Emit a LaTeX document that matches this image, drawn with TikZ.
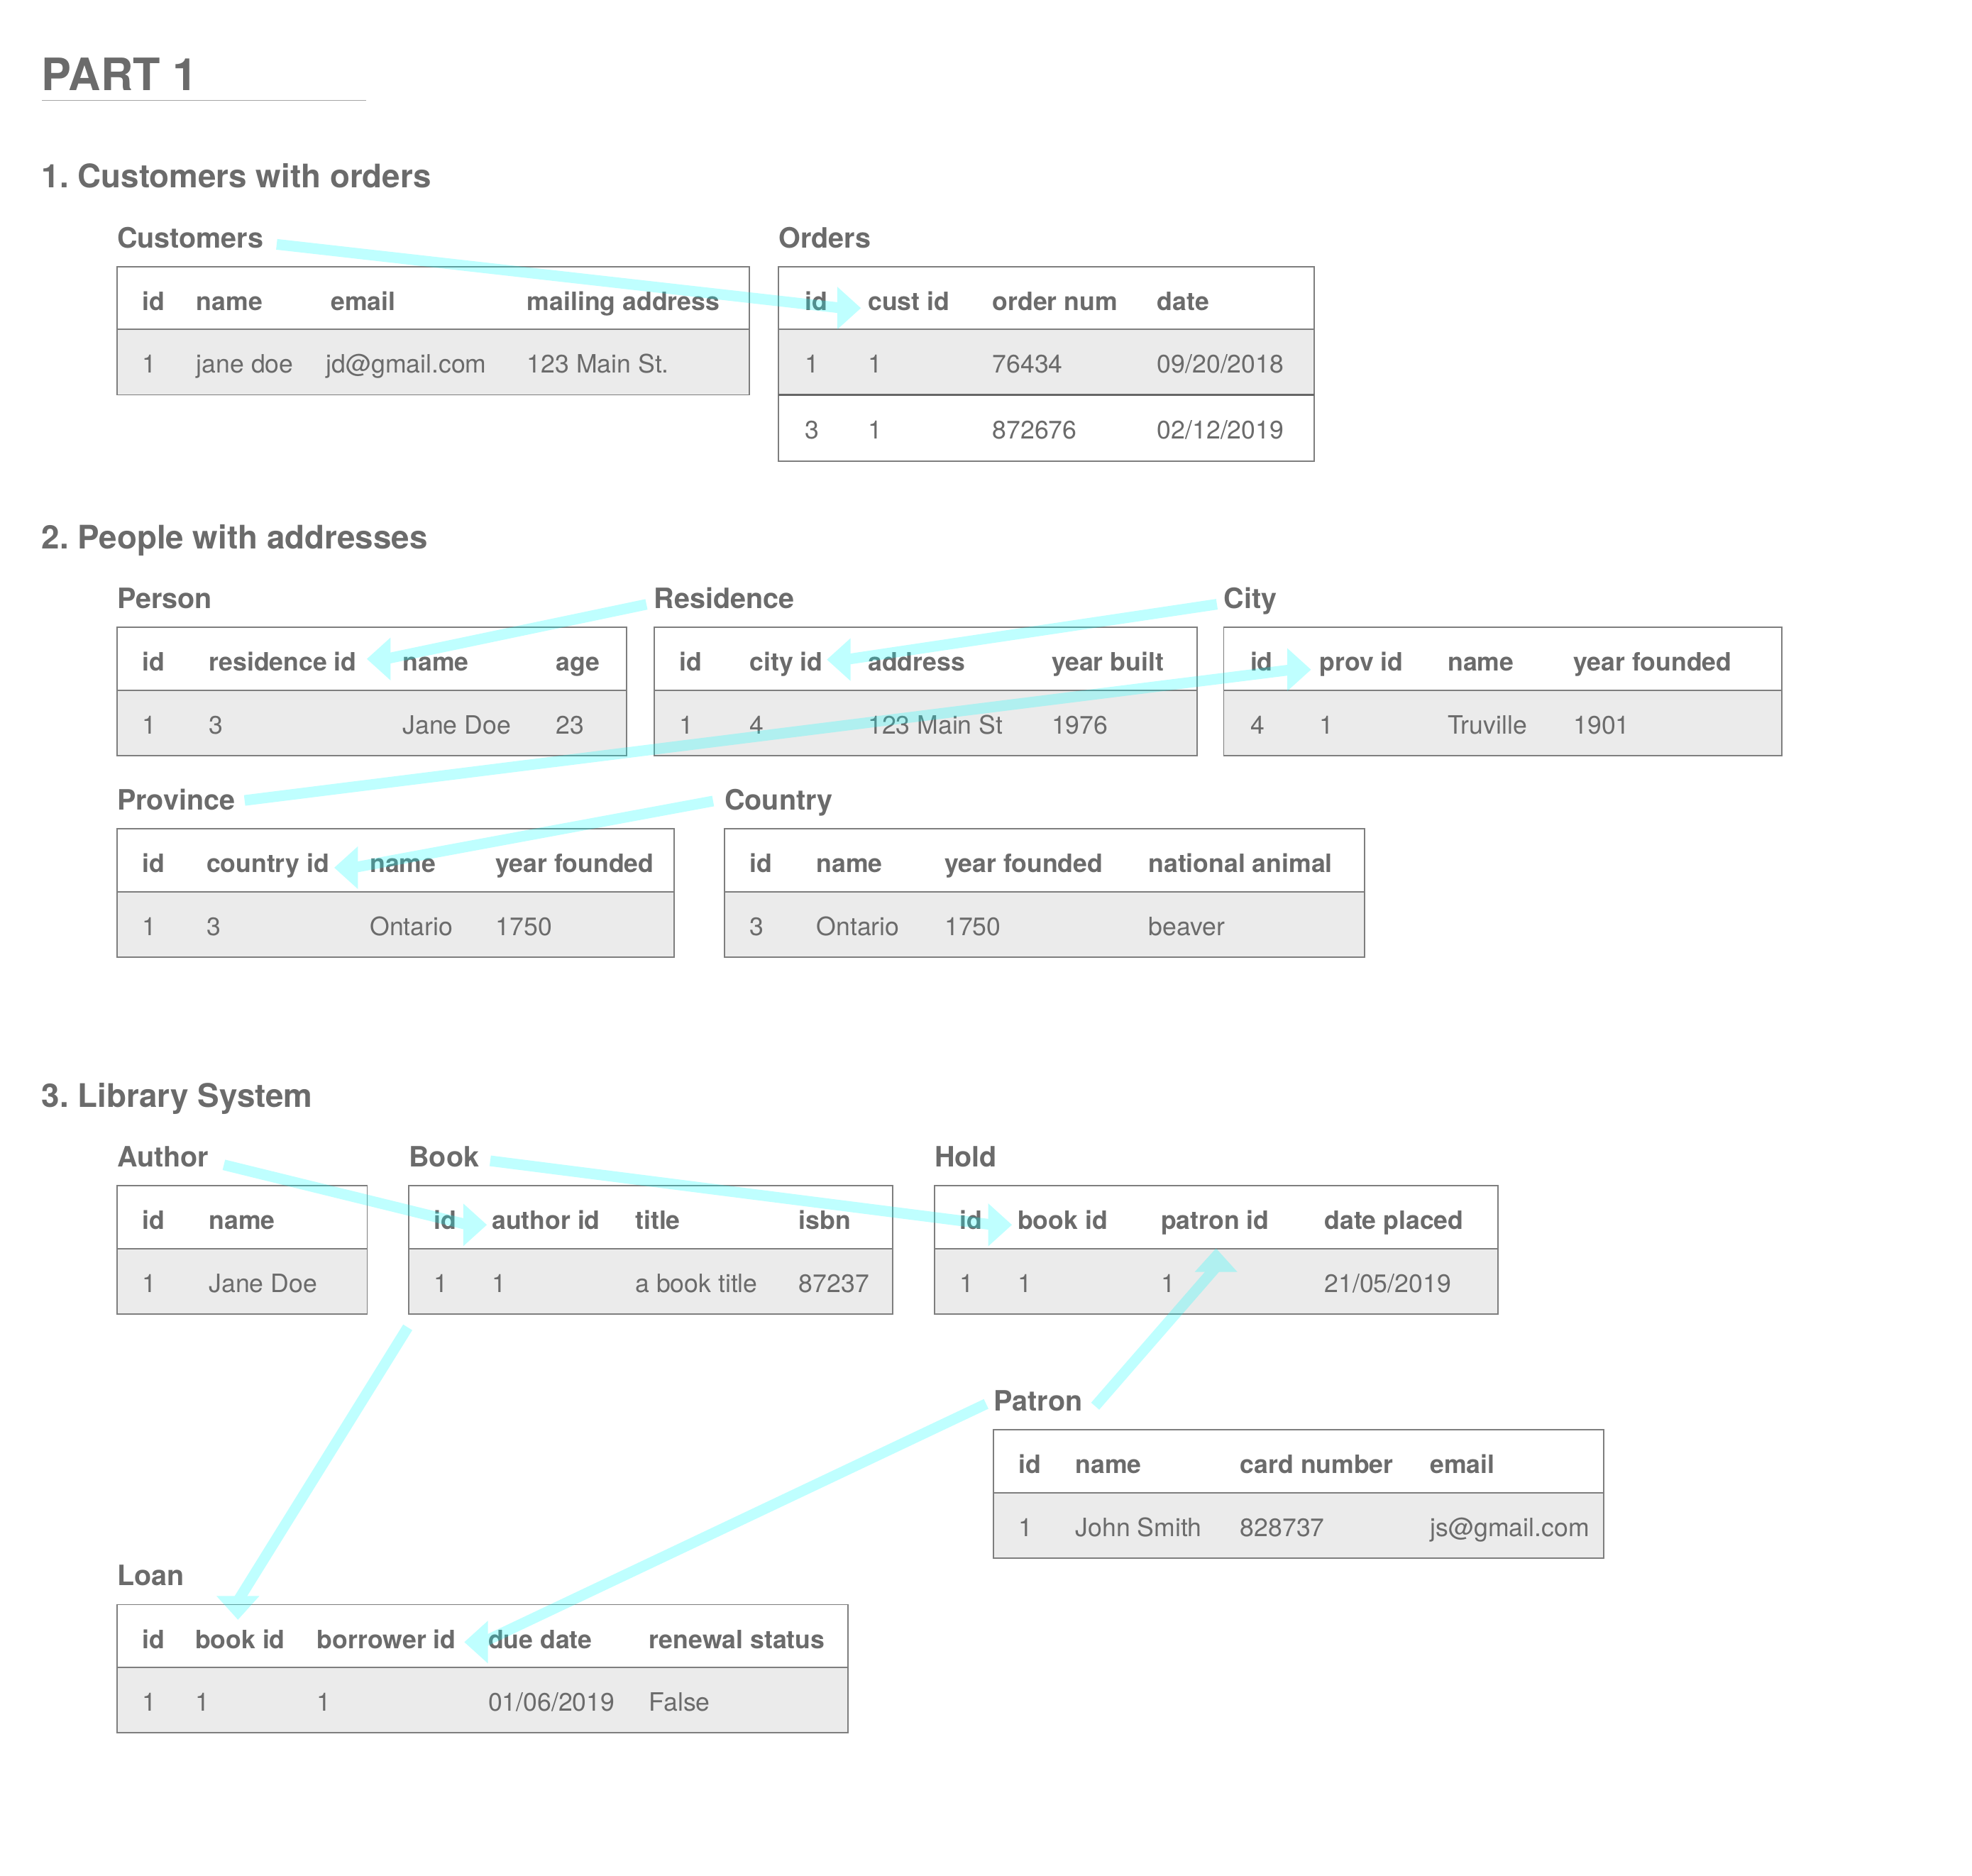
\documentclass[tikz,border=0pt]{standalone}
\usepackage{fontspec}
\setmainfont{TeX Gyre Heros}
\usetikzlibrary{calc}
\frenchspacing
\definecolor{tgray}{HTML}{6B6B6B}
\definecolor{bordergray}{HTML}{7E7E7E}
\definecolor{rowgray}{HTML}{EBEBEB}
\definecolor{linkcyan}{HTML}{00FFFF}
\newcounter{cc}
\tikzset{
  hdtxt/.style={anchor=base west, inner sep=0pt, text=tgray, font=\bfseries\fontsize{20.1}{22}\selectfont},
  dttxt/.style={anchor=base west, inner sep=0pt, text=tgray, font=\fontsize{20.1}{22}\selectfont},
  lbltxt/.style={anchor=base west, inner sep=0pt, text=tgray, font=\bfseries\fontsize{22.3}{24}\selectfont},
  sectxt/.style={anchor=base west, inner sep=0pt, text=tgray, font=\bfseries\fontsize{25.8}{28}\selectfont},
  parttxt/.style={anchor=base west, inner sep=0pt, text=tgray, font=\bfseries\fontsize{35.5}{38}\selectfont},
  tline/.style={draw=bordergray, line width=1.1pt},
  rowfill/.style={fill=rowgray},
  cyanline/.style={draw=linkcyan, line width=8.5pt, line cap=butt},
  cyanhead/.style={fill=linkcyan},
}
% header and data cells
\newcommand\hd[3]{\stepcounter{cc}\node[hdtxt] (n\arabic{cc}) at (#1,#2+34.7) {#3};}
\newcommand\dt[3]{\stepcounter{cc}\node[dttxt] (n\arabic{cc}) at (#1,#2+34.7) {#3};}
% standard two-row table: left x, top y, right x
\newcommand\dbtab[3]{%
  \fill[rowfill] (#1,#2+50) rectangle (#3,#2+102);
  \draw[tline] (#1,#2) rectangle (#3,#2+102);
  \draw[tline] (#1,#2+50) -- (#3,#2+50);}
% arrows with axis-aligned heads
\newcommand\arrR[2]{\begin{scope}[transparency group, opacity=0.25]
  \draw[cyanline] (#1) -- ($(#2)+(-15,0)$);
  \fill[cyanhead] (#2) -- ($(#2)+(-18.8,-17)$) -- ($(#2)+(-18.8,17)$) -- cycle;
  \end{scope}}
\newcommand\arrL[2]{\begin{scope}[transparency group, opacity=0.25]
  \draw[cyanline] (#1) -- ($(#2)+(15,0)$);
  \fill[cyanhead] (#2) -- ($(#2)+(18.8,-17)$) -- ($(#2)+(18.8,17)$) -- cycle;
  \end{scope}}
\newcommand\arrU[2]{\begin{scope}[transparency group, opacity=0.25]
  \draw[cyanline] (#1) -- ($(#2)+(0,15)$);
  \fill[cyanhead] (#2) -- ($(#2)+(-17,18.8)$) -- ($(#2)+(17,18.8)$) -- cycle;
  \end{scope}}
\newcommand\arrD[2]{\begin{scope}[transparency group, opacity=0.25]
  \draw[cyanline] (#1) -- ($(#2)+(0,-15)$);
  \fill[cyanhead] (#2) -- ($(#2)+(-17,-18.8)$) -- ($(#2)+(17,-18.8)$) -- cycle;
  \end{scope}}
\begin{document}
\begin{tikzpicture}[x=1pt, y=-1pt]
\useasboundingbox[fill=white] (0,0) rectangle (1568,1491.8);

% ---------- titles ----------
\node[parttxt] (part) at (33,71.8) {PART 1};
\draw[draw=black!35, line width=0.9pt] (33.3,79.9) -- (291.2,79.9);
\node[sectxt] (sec1) at (33,149.1) {1. Customers with orders};
\node[sectxt] (sec2) at (33,436.5) {2. People with addresses};
\node[sectxt] (sec3) at (33,880.5) {3. Library System};

% ---------- table labels ----------
\node[lbltxt] (Lcust) at (93,197) {Customers};
\node[lbltxt] (Lord) at (619,197) {Orders};
\node[lbltxt] (Lpers) at (93,484) {Person};
\node[lbltxt] (Lres) at (520,484) {Residence};
\node[lbltxt] (Lcity) at (973,484) {City};
\node[lbltxt] (Lprov) at (93,644) {Province};
\node[lbltxt] (Lctry) at (576,644) {Country};
\node[lbltxt] (Lauth) at (93,928) {Author};
\node[lbltxt] (Lbook) at (325,928) {Book};
\node[lbltxt] (Lhold) at (743,928) {Hold};
\node[lbltxt] (Lpat) at (790,1122) {Patron};
\node[lbltxt] (Lloan) at (93,1261) {Loan};

% ---------- Customers ----------
\dbtab{93}{212}{596}
\hd{113}{212}{id}\hd{156}{212}{name}\hd{263}{212}{email}\hd{419}{212}{mailing address}
\dt{113}{262}{1}\dt{156}{262}{jane doe}\dt{259}{262}{jd@gmail.com}\dt{419}{262}{123 Main St.}

% ---------- Orders ----------
\fill[rowfill] (619,262) rectangle (1045,314);
\draw[tline] (619,212) rectangle (1045,367);
\draw[tline] (619,262) -- (1045,262);
\draw[tline, line width=1.9pt, draw=black!60] (619,314) -- (1045,314);
\hd{640}{212}{id}\hd{690}{212}{cust id}\hd{789}{212}{order num}\hd{920}{212}{date}
\dt{640}{262}{1}\dt{690}{262}{1}\dt{789}{262}{76434}\dt{920}{262}{09/20/2018}
\dt{640}{314}{3}\dt{690}{314}{1}\dt{789}{314}{872676}\dt{920}{314}{02/12/2019}

% ---------- Person ----------
\dbtab{93}{499}{498}
\hd{113}{499}{id}\hd{166}{499}{residence id}\hd{320}{499}{name}\hd{442}{499}{age}
\dt{113}{549}{1}\dt{166}{549}{3}\dt{320}{549}{Jane Doe}\dt{442}{549}{23}

% ---------- Residence ----------
\dbtab{520}{499}{952}
\hd{540}{499}{id}\hd{596}{499}{city id}\hd{690}{499}{address}\hd{836}{499}{year built}
\dt{540}{549}{1}\dt{596}{549}{4}\dt{690}{549}{123 Main St}\dt{836}{549}{1976}

% ---------- City ----------
\dbtab{973}{499}{1417}
\hd{994}{499}{id}\hd{1049}{499}{prov id}\hd{1151}{499}{name}\hd{1251}{499}{year founded}
\dt{994}{549}{4}\dt{1049}{549}{1}\dt{1151}{549}{Truville}\dt{1251}{549}{1901}

% ---------- Province ----------
\dbtab{93}{659}{536}
\hd{113}{659}{id}\hd{164}{659}{country id}\hd{294}{659}{name}\hd{394}{659}{year founded}
\dt{113}{709}{1}\dt{164}{709}{3}\dt{294}{709}{Ontario}\dt{394}{709}{1750}

% ---------- Country ----------
\dbtab{576}{659}{1085}
\hd{596}{659}{id}\hd{649}{659}{name}\hd{751}{659}{year founded}\hd{913}{659}{national animal}
\dt{596}{709}{3}\dt{649}{709}{Ontario}\dt{751}{709}{1750}\dt{913}{709}{beaver}

% ---------- Author ----------
\dbtab{93}{943}{292}
\hd{113}{943}{id}\hd{166}{943}{name}
\dt{113}{993}{1}\dt{166}{993}{Jane Doe}

% ---------- Book ----------
\dbtab{325}{943}{710}
\hd{345}{943}{id}\hd{391}{943}{author id}\hd{505}{943}{title}\hd{635}{943}{isbn}
\dt{345}{993}{1}\dt{391}{993}{1}\dt{505}{993}{a book title}\dt{635}{993}{87237}

% ---------- Hold ----------
\dbtab{743}{943}{1191}
\hd{763}{943}{id}\hd{809}{943}{book id}\hd{923}{943}{patron id}\hd{1053}{943}{date placed}
\dt{763}{993}{1}\dt{809}{993}{1}\dt{923}{993}{1}\dt{1053}{993}{21/05/2019}

% ---------- Patron ----------
\dbtab{790}{1137}{1275}
\hd{810}{1137}{id}\hd{855}{1137}{name}\hd{986}{1137}{card number}\hd{1137}{1137}{email}
\dt{810}{1187}{1}\dt{855}{1187}{John Smith}\dt{986}{1187}{828737}\dt{1137}{1187}{js@gmail.com}

% ---------- Loan ----------
\dbtab{93}{1276}{674}
\hd{113}{1276}{id}\hd{155}{1276}{book id}\hd{252}{1276}{borrower id}\hd{388}{1276}{due date}\hd{516}{1276}{renewal status}
\dt{113}{1326}{1}\dt{155}{1326}{1}\dt{252}{1326}{1}\dt{388}{1326}{01/06/2019}\dt{516}{1326}{False}

% ---------- connector end points ----------
\coordinate (a1s) at (220,194.3);   \coordinate (a1t) at (684.5,245);
\coordinate (a2s) at (514,480.6);   \coordinate (a2t) at (291.7,524);
\coordinate (a3s) at (967.6,480.5); \coordinate (a3t) at (657.5,524.5);
\coordinate (a4s) at (194.5,636.5); \coordinate (a4t) at (1042.4,532.5);
\coordinate (a5s) at (567,637);     \coordinate (a5t) at (265.8,690);
\coordinate (a6s) at (178,926.3);   \coordinate (a6t) at (387.1,974);
\coordinate (a7s) at (389.8,923.1); \coordinate (a7t) at (804.6,974);
\coordinate (a8s) at (870.8,1118.2);\coordinate (a8t) at (966.9,992.7);
\coordinate (a9s) at (324.2,1055.5);\coordinate (a9t) at (189.2,1288);
\coordinate (a10s) at (784.1,1116.4);\coordinate (a10t) at (369.2,1305.8);

% ---------- connectors ----------
\arrR{a1s}{a1t}
\arrL{a2s}{a2t}
\arrL{a3s}{a3t}
\arrR{a4s}{a4t}
\arrL{a5s}{a5t}
\arrR{a6s}{a6t}
\arrR{a7s}{a7t}
\arrU{a8s}{a8t}
\arrD{a9s}{a9t}
\arrL{a10s}{a10t}
\end{tikzpicture}
\end{document}
